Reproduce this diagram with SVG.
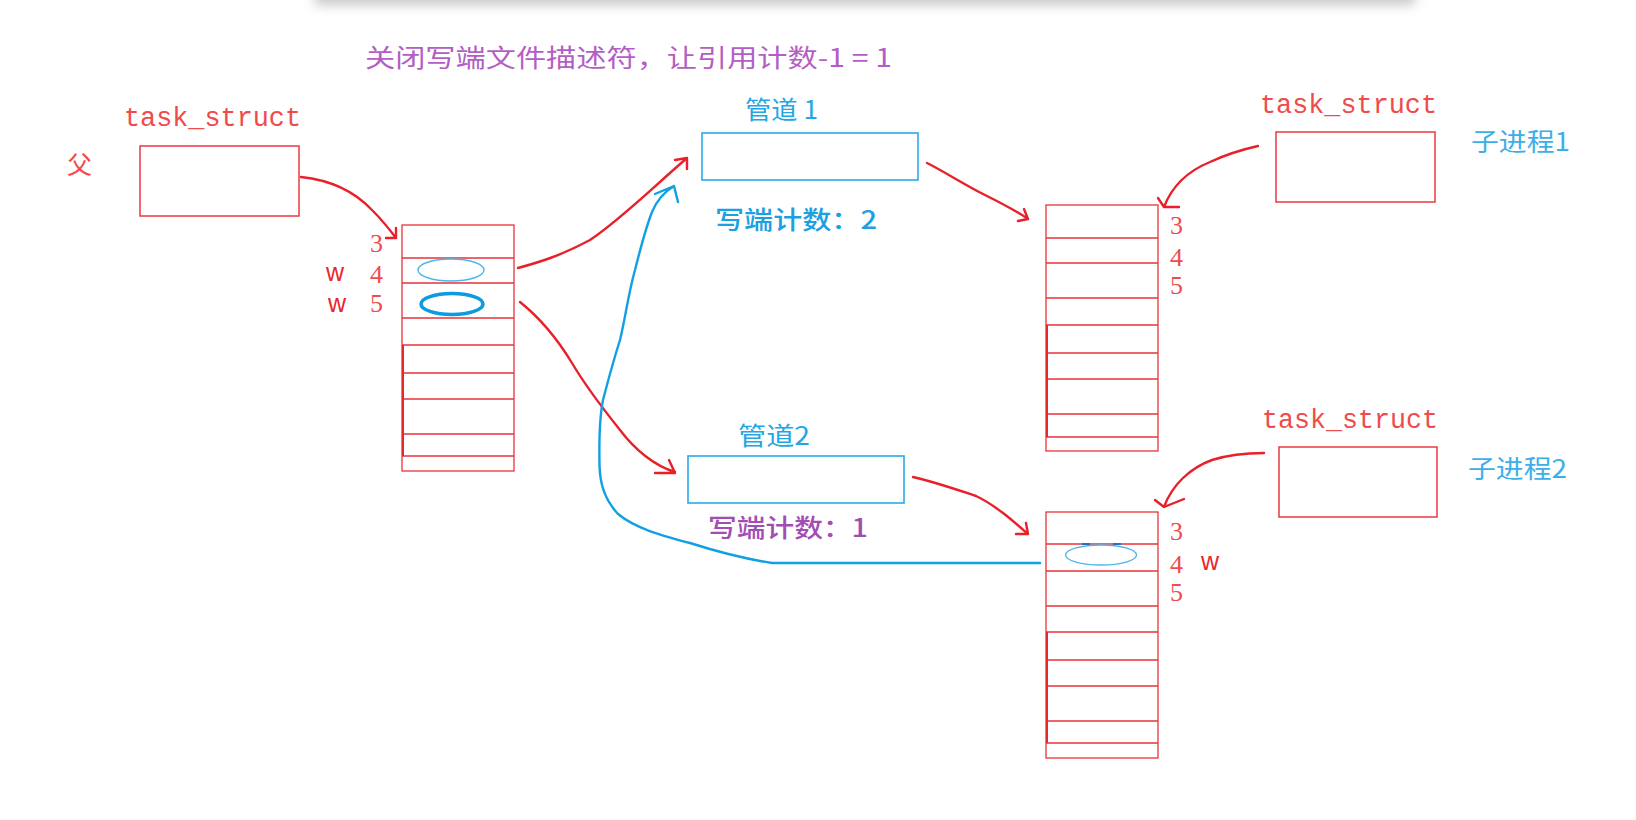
<svg xmlns="http://www.w3.org/2000/svg" width="1636" height="820" viewBox="0 0 1636 820">
<defs>
<filter id="sh" x="-5%" y="-100%" width="110%" height="400%"><feGaussianBlur stdDeviation="6"/></filter>
<style>
.tbl{fill:none;stroke:#e8333a;stroke-width:1.3}
.box{fill:#fff;stroke:#ea3a40;stroke-width:1.5}
.pipe{fill:#fff;stroke:#2aaae8;stroke-width:1.6}
.rt{fill:#f04b4b;font-family:"Liberation Mono",monospace;font-size:27px}
.num{fill:#f04b4b;font-family:"Liberation Serif",serif;font-size:26px}
.w{fill:#e8262b;font-family:"Liberation Sans",sans-serif;font-size:25px}
.cn{font-family:"Noto Sans CJK SC",sans-serif;font-size:25px}
.red{fill:none;stroke:#e8202a;stroke-width:2.4;stroke-linecap:round;stroke-linejoin:round}
.blue{fill:none;stroke:#12a0e4;stroke-width:2.4;stroke-linecap:round;stroke-linejoin:round}
</style>
</defs>
<rect width="1636" height="820" fill="#fff"/>
<rect x="315" y="-40" width="1100" height="45" fill="#c8c8c8" filter="url(#sh)"/>
<rect x="300" y="-60" width="1130" height="60" fill="#fff"/>

<text class="cn" x="365" y="67" fill="#b35ec4" font-size="28" textLength="527" lengthAdjust="spacingAndGlyphs">关闭写端文件描述符，让引用计数-1 = 1</text>

<g id="parent">
<text class="rt" x="124" y="126" textLength="177" lengthAdjust="spacingAndGlyphs">task_struct</text>
<text class="cn" x="67" y="174" fill="#f04b4b" font-size="27">父</text>
<rect class="box" x="140" y="146" width="159" height="70"/>
</g>

<g id="parent-fd">
<rect class="tbl" x="402" y="225" width="112" height="246"/>
<path class="tbl" d="M402 258H514M402 283H514M402 318H514M402 345H514M402 373H514M402 399H514M402 434H514M402 456H514"/>
<path d="M403 345V456" stroke="#e8262b" stroke-width="2"/>
<text class="num" x="370" y="252">3</text>
<text class="num" x="370" y="283">4</text>
<text class="num" x="370" y="312">5</text>
<text class="w" x="326" y="281">w</text>
<text class="w" x="328" y="312">w</text>
<ellipse cx="451" cy="270" rx="33" ry="11" fill="none" stroke="#4db7ec" stroke-width="1.4"/>
<ellipse cx="452" cy="304" rx="31" ry="10.5" fill="none" stroke="#0c9be0" stroke-width="3.5"/>
</g>

<g id="pipe1">
<text class="cn" x="745" y="119" fill="#22a6e4" textLength="73" lengthAdjust="spacingAndGlyphs">管道 1</text>
<rect class="pipe" x="702" y="133" width="216" height="47"/>
<text class="cn" x="715" y="229" fill="#1ba0e2" font-weight="500" textLength="162" lengthAdjust="spacingAndGlyphs">写端计数：2</text>
</g>

<g id="pipe2">
<text class="cn" x="738" y="445" fill="#22a6e4" textLength="72" lengthAdjust="spacingAndGlyphs">管道2</text>
<rect class="pipe" x="688" y="456" width="216" height="47"/>
<text class="cn" x="708" y="537" fill="#a24db4" font-weight="500" textLength="160" lengthAdjust="spacingAndGlyphs">写端计数：1</text>
</g>

<g id="child1">
<text class="rt" x="1260" y="113" textLength="177" lengthAdjust="spacingAndGlyphs">task_struct</text>
<rect class="box" x="1276" y="132" width="159" height="70"/>
<text class="cn" x="1471" y="151" fill="#3daee8" textLength="99" lengthAdjust="spacingAndGlyphs">子进程1</text>
</g>

<g id="child1-fd">
<rect class="tbl" x="1046" y="205" width="112" height="246"/>
<path class="tbl" d="M1046 238H1158M1046 263H1158M1046 298H1158M1046 325H1158M1046 353H1158M1046 379H1158M1046 414H1158M1046 437H1158"/>
<path d="M1047 325V437" stroke="#e8262b" stroke-width="2"/>
<text class="num" x="1170" y="234">3</text>
<text class="num" x="1170" y="266">4</text>
<text class="num" x="1170" y="294">5</text>
</g>

<g id="child2">
<text class="rt" x="1262" y="428" textLength="176" lengthAdjust="spacingAndGlyphs">task_struct</text>
<rect class="box" x="1279" y="447" width="158" height="70"/>
<text class="cn" x="1468" y="478" fill="#3daee8" textLength="99" lengthAdjust="spacingAndGlyphs">子进程2</text>
</g>

<g id="child2-fd">
<rect class="tbl" x="1046" y="512" width="112" height="246"/>
<path class="tbl" d="M1046 544H1158M1046 571H1158M1046 606H1158M1046 632H1158M1046 660H1158M1046 686H1158M1046 721H1158M1046 743H1158"/>
<path d="M1047 632V743" stroke="#e8262b" stroke-width="2"/>
<text class="num" x="1170" y="540">3</text>
<text class="num" x="1170" y="573">4</text>
<text class="num" x="1170" y="601">5</text>
<text class="w" x="1201" y="570">w</text>
<ellipse cx="1101" cy="555" rx="35.5" ry="10" fill="none" stroke="#4db7ec" stroke-width="1.4"/>
<path d="M1082 544H1090M1113 544H1121" stroke="#2f6fb8" stroke-width="2"/>
</g>

<g id="connectors">
<path class="red" d="M301 177C330 180 355 192 372 210C384 222 390 230 396 238M386 238H396V228"/>
<path class="red" d="M518 268C540 262 560 256 590 240C620 220 650 190 687 158M675 160L687 158L687 169"/>
<path class="red" d="M520 302C540 318 558 340 572 363C585 385 600 405 620 430C635 450 655 466 675 472M655 473H675L669 460"/>
<path class="red" d="M927 163C945 172 965 185 985 195C1005 205 1018 212 1028 219M1018 221L1028 219L1024 209"/>
<path class="red" d="M913 477C935 482 958 490 976 496C995 505 1012 520 1028 534M1016 534H1028L1026 523"/>
<path class="red" d="M1258 146C1240 150 1225 155 1210 162C1188 171 1172 186 1164 207M1179 207H1164L1158 198"/>
<path class="red" d="M1264 453C1245 453 1228 455 1212 460C1190 468 1172 485 1164 507M1155 500L1164 507L1184 499"/>
<path class="blue" d="M1040 563H772C740 558 715 551 690 543C660 535 635 528 618 514C605 500 600 485 599.5 465C599 440 599 420 603 400C607 385 612 365 620 340C626 315 628 295 635 270C640 250 645 230 652 212C657 200 664 192 674 186M655 194L674 186L678 202"/>
</g>
</svg>
